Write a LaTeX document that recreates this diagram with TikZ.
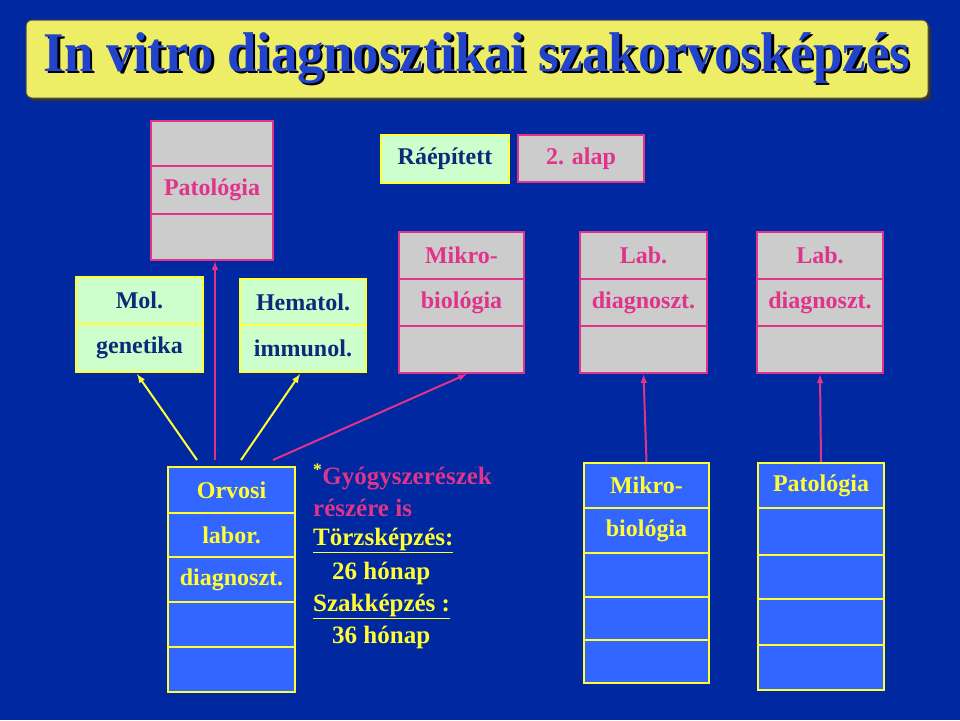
\documentclass[tikz,border=0pt]{standalone}
\usepackage{fontspec}
\setmainfont{Liberation Serif}
\usetikzlibrary{calc}
\definecolor{bg}{RGB}{0,40,160}
\definecolor{pk}{RGB}{224,51,138}
\definecolor{gy}{RGB}{204,204,204}
\definecolor{pg}{RGB}{204,255,204}
\definecolor{yl}{RGB}{255,255,51}
\definecolor{bf}{RGB}{51,102,255}
\definecolor{db}{RGB}{10,42,122}
\definecolor{tf}{RGB}{238,238,102}
\definecolor{tt}{RGB}{34,68,204}
\newcommand{\cellbox}[7]{\node[#6,minimum width={#4-#2},minimum height={#5-#3}] (#1) at ({(#2+#4)/2},{(#3+#5)/2}) {#7};}
\begin{document}
\begin{tikzpicture}[x=1pt,y=-1pt,
  gc/.style={draw=pk,fill=gy,line width=2.5pt,inner sep=0pt,text=pk,font=\bfseries\fontsize{24}{26}\selectfont},
  grn/.style={draw=yl,fill=pg,line width=2.5pt,inner sep=0pt,text=db,font=\bfseries\fontsize{24}{26}\selectfont},
  bc/.style={draw=yl,fill=bf,line width=2.5pt,inner sep=0pt,text=yl,font=\bfseries\fontsize{24}{26}\selectfont},
  pa/.style={draw=pk,line width=2pt,-latex},
  ya/.style={draw=yl,line width=2pt,-latex},
  tl/.style={anchor=west,inner sep=0pt,font=\bfseries\fontsize{25}{27}\selectfont}]
\fill[bg] (0,0) rectangle (960,720);
\useasboundingbox (0,0) rectangle (960,720);
% title
\fill[black!80,rounded corners=6pt] (29,23) rectangle (931,101);
\node[fill=tf,draw=black!70,line width=1pt,rounded corners=6pt,minimum width=902,minimum height=78,inner sep=0pt] (title) at (477,59) {};
\node[text=tt,font=\bfseries\fontsize{56}{58}\selectfont,xscale=0.94] (tt) at (477,59) {\rlap{\raisebox{-2.5pt}{\kern2.5pt\textcolor{black}{In vitro diagnosztikai szakorvosképzés}}}In vitro diagnosztikai szakorvosképzés};
% Patologia stack
\cellbox{p1}{151}{121}{273}{166}{gc}{}
\cellbox{p2}{151}{166}{273}{214}{gc}{Patológia}
\cellbox{p3}{151}{214}{273}{260}{gc}{}
% Ráépített, 2. alap
\cellbox{ra}{381}{135}{509}{183}{grn}{Ráépített}
\cellbox{al}{518}{135}{644}{182}{gc}{2. alap}
% Mol genetika
\cellbox{m1}{76}{277}{203}{324}{grn}{Mol.}
\cellbox{m2}{76}{324}{203}{372}{grn}{genetika}
% Hematol
\cellbox{h1}{240}{279}{366}{325}{grn}{Hematol.}
\cellbox{h2}{240}{325}{366}{372}{grn}{immunol.}
% Mikro top
\cellbox{k1}{399}{232}{524}{279}{gc}{Mikro-}
\cellbox{k2}{399}{279}{524}{326}{gc}{biológia}
\cellbox{k3}{399}{326}{524}{373}{gc}{}
% Lab 1
\cellbox{l1}{580}{232}{707}{279}{gc}{Lab.}
\cellbox{l2}{580}{279}{707}{326}{gc}{diagnoszt.}
\cellbox{l3}{580}{326}{707}{373}{gc}{}
% Lab 2
\cellbox{r1}{757}{232}{883}{279}{gc}{Lab.}
\cellbox{r2}{757}{279}{883}{326}{gc}{diagnoszt.}
\cellbox{r3}{757}{326}{883}{373}{gc}{}
% Orvosi
\cellbox{o1}{168}{467}{295}{513}{bc}{Orvosi}
\cellbox{o2}{168}{513}{295}{557}{bc}{labor.}
\cellbox{o3}{168}{557}{295}{602}{bc}{diagnoszt.}
\cellbox{o4}{168}{602}{295}{647}{bc}{}
\cellbox{o5}{168}{647}{295}{692}{bc}{}
% Mikro bottom
\cellbox{b1}{584}{463}{709}{508}{bc}{Mikro-}
\cellbox{b2}{584}{508}{709}{553}{bc}{biológia}
\cellbox{b3}{584}{553}{709}{597}{bc}{}
\cellbox{b4}{584}{597}{709}{640}{bc}{}
\cellbox{b5}{584}{640}{709}{683}{bc}{}
% Patologia bottom
\cellbox{q1}{758}{463}{884}{508}{bc}{Patológia}
\cellbox{q2}{758}{508}{884}{555}{bc}{}
\cellbox{q3}{758}{555}{884}{599}{bc}{}
\cellbox{q4}{758}{599}{884}{645}{bc}{}
\cellbox{q5}{758}{645}{884}{690}{bc}{}
% arrows
\coordinate (oa) at (197,460);
\coordinate (ob) at (215,460);
\coordinate (oc) at (241,460);
\coordinate (od) at (273,460);
\draw[ya] (oa) -- (137,374);
\draw[pa] (ob) -- (ob|-p3.south);
\draw[ya] (oc) -- (300,374);
\draw[pa] (od) -- (467,374);
\draw[pa] (b1.north) -- (l3.south);
\draw[pa] (q1.north) -- (r3.south);
% text
\node[tl,text=pk] (t1) at (313,477) {\textcolor{yl}{\textsuperscript{*}}Gyógyszerészek};
\node[tl,text=pk] (t2) at (313,508) {részére is};
\node[tl,text=yl] (t3) at (313,540) {\underline{Törzsképzés:}};
\node[tl,text=yl] (t4) at (332,573) {26 hónap};
\node[tl,text=yl] (t5) at (313,606) {\underline{Szakképzés :}};
\node[tl,text=yl] (t6) at (332,637) {36 hónap};
\end{tikzpicture}
\end{document}
